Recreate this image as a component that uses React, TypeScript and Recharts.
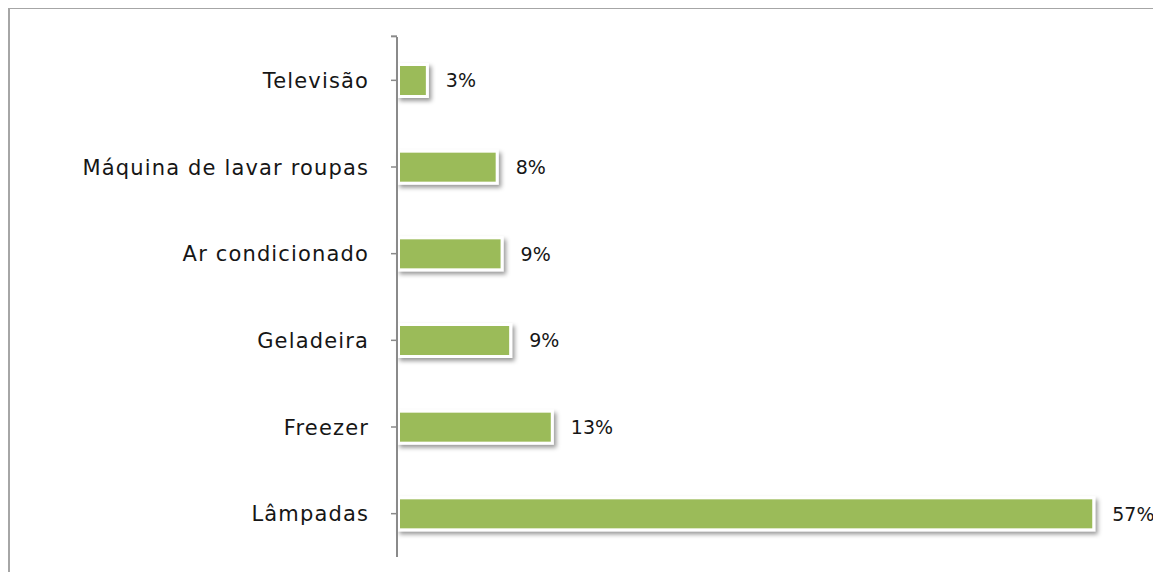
import React from 'react';
import { BarChart, Bar, XAxis, YAxis, LabelList } from 'recharts';

const categories = [
  'Televisão',
  'Máquina de lavar roupas',
  'Ar condicionado',
  'Geladeira',
  'Freezer',
  'Lâmpadas',
];
const shares = [2.6, 8.3, 8.7, 9.4, 12.8, 57];
const data = categories.map((name, i) => ({ name, value: shares[i] }));

const FONT = '"DejaVu Sans", Verdana, sans-serif';
const TEXT = '#161616';
const AXIS = '#8a8a8a';

const BarShape = (props: any) => {
  const { x, y, width, height } = props;
  const inset = 3;
  return (
    <g>
      <rect x={x} y={y} width={width} height={height} fill="#ffffff" filter="url(#barShadow)" />
      <rect
        x={x + inset}
        y={y + inset}
        width={Math.max(0, width - 2 * inset)}
        height={Math.max(0, height - 2 * inset)}
        fill="#9BBB59"
      />
    </g>
  );
};

const CategoryTick = (props: any) => {
  const { x, y, payload, index } = props;
  return (
    <g>
      {index === 0 && (
        <line x1={x + 22} x2={x + 28} y1={y - 44} y2={y - 44} stroke={AXIS} strokeWidth={2} />
      )}
      <text
        x={x}
        y={y}
        dy="0.36em"
        textAnchor="end"
        fontFamily={FONT}
        fontSize={21}
        letterSpacing={1.15}
        fill={TEXT}
      >
        {payload.value}
      </text>
    </g>
  );
};

export default function App() {
  return (
    <div
      style={{
        position: 'relative',
        margin: -8,
        width: 1161,
        height: 580,
        overflow: 'hidden',
        background: '#ffffff',
      }}
    >
      <div
        style={{
          position: 'absolute',
          left: 8,
          top: 7,
          width: 1300,
          height: 800,
          borderLeft: '2px solid #a6a6a6',
          borderTop: '2px solid #a6a6a6',
        }}
      />
      <div style={{ position: 'absolute', left: 0, top: 0 }}>
        <BarChart
          width={1161}
          height={580}
          data={data}
          layout="vertical"
          margin={{ top: 37, right: 29, bottom: 23, left: 0 }}
        >
          <defs>
            <filter id="barShadow" x="-10%" y="-30%" width="130%" height="180%">
              <feDropShadow dx="2.5" dy="3" stdDeviation="2" floodColor="#000" floodOpacity="0.4" />
            </filter>
          </defs>
          <XAxis type="number" domain={[0, 60]} hide />
          <YAxis
            type="category"
            dataKey="name"
            width={397}
            axisLine={{ stroke: AXIS, strokeWidth: 2 }}
            tickLine={{ stroke: AXIS, strokeWidth: 1.5 }}
            tickSize={6}
            tickMargin={22}
            tick={<CategoryTick />}
            interval={0}
          />
          <Bar dataKey="value" barSize={35} shape={<BarShape />} isAnimationActive={false}>
            <LabelList
              dataKey="value"
              position="right"
              offset={17}
              formatter={(v: any) => `${Math.round(Number(v))}%`}
              style={{ fontFamily: FONT, fontSize: 19, fill: TEXT }}
            />
          </Bar>
        </BarChart>
      </div>
    </div>
  );
}
